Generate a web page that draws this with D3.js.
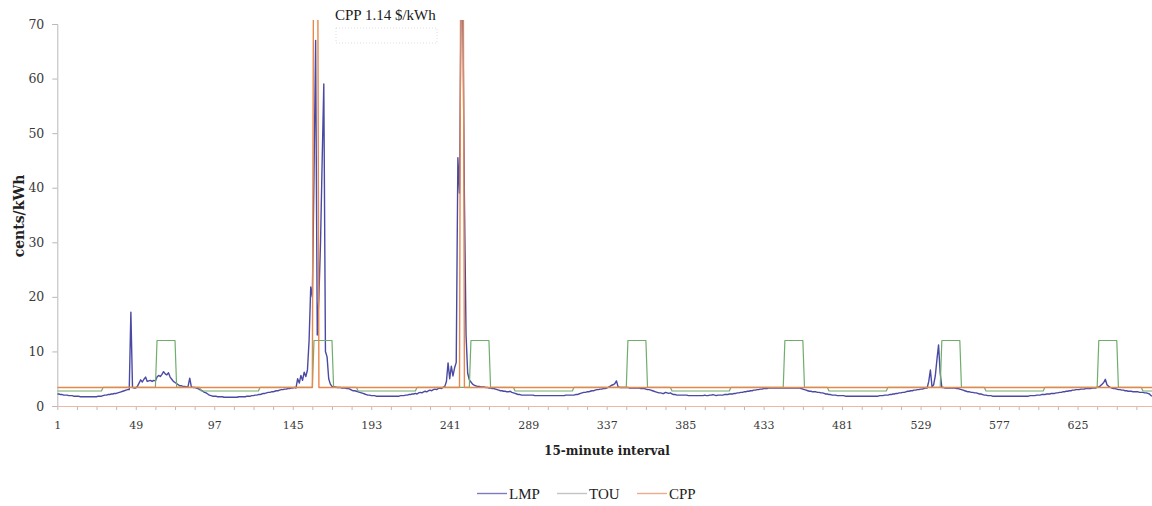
<!DOCTYPE html>
<html>
<head>
<meta charset="utf-8">
<script src="https://cdn.jsdelivr.net/npm/d3@7"></script>
<style>
  html, body { margin: 0; padding: 0; background: #fff; }
  svg { display: block; }
</style>
</head>
<body>
<svg id="chart" width="1152" height="506"></svg>
<script>
// Locational marginal price, cents/kWh, one value per 15-minute interval (96 per day)
const lmpDay1 = [
  2.2, 2.2, 2.1, 2.1, 2.0, 2.0, 2.0, 1.9, 1.9, 1.9, 1.8, 1.8,
  1.8, 1.8, 1.7, 1.7, 1.7, 1.7, 1.7, 1.7, 1.7, 1.7, 1.7, 1.7,
  1.7, 1.8, 1.8, 1.8, 1.9, 2.0, 2.0, 2.1, 2.1, 2.2, 2.2, 2.3,
  2.3, 2.4, 2.5, 2.6, 2.7, 2.8, 2.9, 3.0, 3.0, 17.2, 3.4, 3.3,
  3.3, 3.6, 4.2, 4.8, 4.4, 4.9, 5.3, 4.5, 4.6, 4.7, 4.5, 4.7,
  4.6, 5.3, 5.6, 5.4, 5.8, 6.3, 5.9, 5.7, 6.1, 5.3, 4.9, 4.5,
  4.3, 4.1, 3.9, 3.7, 3.7, 3.6, 3.6, 3.5, 3.6, 5.1, 3.5, 3.4,
  3.4, 3.3, 3.2, 3.0, 2.9, 2.7, 2.5, 2.4, 2.2, 2.0, 1.9, 1.8
];
const lmpDay2 = [
  1.8, 1.8, 1.7, 1.7, 1.7, 1.7, 1.6, 1.6, 1.6, 1.6, 1.6, 1.6,
  1.6, 1.6, 1.6, 1.7, 1.7, 1.7, 1.7, 1.7, 1.8, 1.8, 1.8, 1.9,
  1.9, 2.0, 2.0, 2.1, 2.1, 2.2, 2.3, 2.3, 2.4, 2.5, 2.5, 2.6,
  2.6, 2.7, 2.8, 2.8, 2.9, 3.0, 3.0, 3.1, 3.1, 3.2, 3.2, 3.3,
  3.3, 3.4, 3.3, 5.0, 4.2, 5.6, 4.7, 6.2, 5.4, 6.6, 12.0, 21.8,
  20.0, 42.0, 67.0, 13.0, 20.0, 30.0, 45.0, 59.0, 10.0, 9.0, 5.0, 4.0,
  3.6, 3.5, 3.5, 3.4, 3.4, 3.4, 3.3, 3.3, 3.3, 3.2, 3.2, 3.1,
  2.9, 2.8, 2.8, 2.7, 2.6, 2.5, 2.4, 2.3, 2.2, 2.1, 2.0, 2.0
];
const lmpDay3 = [
  1.9, 1.9, 1.9, 1.8, 1.8, 1.8, 1.8, 1.8, 1.8, 1.8, 1.8, 1.8,
  1.8, 1.8, 1.8, 1.8, 1.8, 1.8, 1.9, 1.9, 1.9, 2.0, 2.0, 2.1,
  2.1, 2.2, 2.2, 2.3, 2.2, 2.4, 2.5, 2.4, 2.6, 2.7, 2.6, 2.8,
  2.9, 2.8, 3.0, 3.1, 3.0, 3.2, 3.3, 3.2, 3.4, 3.6, 4.5, 7.9,
  5.0, 7.3, 5.5, 7.0, 8.0, 45.5, 39.0, 76.0, 74.0, 38.0, 13.0, 6.0,
  4.8, 4.4, 4.0, 3.8, 3.7, 3.6, 3.6, 3.5, 3.5, 3.5, 3.4, 3.4,
  3.3, 3.3, 3.2, 3.2, 3.1, 3.0, 2.9, 2.8, 2.8, 2.7, 2.7, 2.6,
  2.6, 2.7, 2.5, 2.4, 2.3, 2.2, 2.1, 2.1, 2.0, 2.0, 2.0, 2.0
];
const lmpDay4 = [
  2.0, 2.0, 2.0, 2.0, 1.9, 1.9, 1.9, 1.9, 1.9, 1.9, 1.9, 1.9,
  1.9, 1.9, 1.9, 1.9, 1.9, 1.9, 1.9, 1.9, 1.9, 1.9, 1.9, 2.0,
  2.0, 2.0, 2.0, 2.0, 2.0, 2.1, 2.1, 2.2, 2.3, 2.4, 2.5, 2.5,
  2.6, 2.6, 2.7, 2.8, 2.8, 2.9, 3.0, 3.0, 3.1, 3.1, 3.2, 3.2,
  3.3, 3.4, 3.6, 3.8, 3.9, 4.1, 4.6, 3.5, 3.4, 3.4, 3.4, 3.4,
  3.4, 3.4, 3.3, 3.3, 3.3, 3.3, 3.3, 3.3, 3.3, 3.2, 3.2, 3.2,
  3.1, 3.0, 3.0, 2.9, 2.8, 2.7, 2.6, 2.5, 2.4, 2.4, 2.3, 2.3,
  2.5, 2.4, 2.3, 2.4, 2.2, 2.1, 2.1, 2.0, 2.0, 2.0, 2.0, 2.0
];
const lmpDay5 = [
  2.0, 2.0, 1.9, 1.9, 1.9, 1.9, 1.9, 1.9, 1.9, 1.9, 1.9, 1.9,
  2.0, 1.9, 1.9, 2.0, 2.0, 2.1, 2.0, 1.9, 2.0, 2.0, 2.0, 2.0,
  2.1, 2.1, 2.1, 2.2, 2.2, 2.2, 2.3, 2.3, 2.4, 2.4, 2.5, 2.5,
  2.6, 2.6, 2.7, 2.7, 2.8, 2.8, 2.9, 2.9, 3.0, 3.0, 3.1, 3.1,
  3.2, 3.2, 3.2, 3.3, 3.3, 3.3, 3.3, 3.3, 3.3, 3.3, 3.3, 3.3,
  3.3, 3.3, 3.3, 3.3, 3.3, 3.3, 3.3, 3.3, 3.3, 3.3, 3.3, 3.2,
  3.1, 3.0, 2.9, 2.8, 2.7, 2.7, 2.6, 2.6, 2.6, 2.5, 2.5, 2.4,
  2.4, 2.3, 2.2, 2.2, 2.1, 2.1, 2.0, 2.0, 2.0, 1.9, 1.9, 1.9
];
const lmpDay6 = [
  1.9, 1.9, 1.8, 1.8, 1.8, 1.8, 1.8, 1.8, 1.8, 1.8, 1.8, 1.8,
  1.8, 1.8, 1.8, 1.8, 1.8, 1.8, 1.8, 1.8, 1.8, 1.8, 1.8, 1.9,
  1.9, 1.9, 2.0, 2.0, 2.0, 2.1, 2.1, 2.2, 2.2, 2.3, 2.3, 2.4,
  2.4, 2.5, 2.5, 2.6, 2.7, 2.7, 2.8, 2.8, 2.9, 2.9, 3.0, 3.0,
  3.1, 3.1, 3.2, 3.3, 3.3, 4.5, 6.6, 3.5, 3.9, 5.5, 8.5, 11.2,
  6.0, 3.4, 3.4, 3.3, 3.3, 3.3, 3.3, 3.3, 3.3, 3.3, 3.2, 3.2,
  3.1, 3.0, 2.9, 2.8, 2.7, 2.6, 2.6, 2.5, 2.5, 2.4, 2.4, 2.3,
  2.2, 2.2, 2.1, 2.0, 2.0, 1.9, 1.9, 1.9, 1.8, 1.8, 1.8, 1.8
];
const lmpDay7 = [
  1.8, 1.8, 1.8, 1.8, 1.8, 1.8, 1.8, 1.8, 1.8, 1.8, 1.8, 1.8,
  1.8, 1.8, 1.8, 1.8, 1.8, 1.8, 1.8, 1.9, 1.9, 1.9, 1.9, 2.0,
  2.0, 2.0, 2.1, 2.1, 2.1, 2.2, 2.2, 2.2, 2.3, 2.3, 2.3, 2.4,
  2.4, 2.5, 2.5, 2.6, 2.6, 2.7, 2.7, 2.8, 2.8, 2.9, 2.9, 3.0,
  3.0, 3.0, 3.1, 3.1, 3.1, 3.2, 3.2, 3.2, 3.2, 3.3, 3.3, 3.3,
  3.4, 3.5, 3.7, 4.0, 4.3, 4.9, 3.9, 3.6, 3.4, 3.3, 3.2, 3.2,
  3.1, 3.0, 3.0, 2.9, 2.9, 2.8, 2.8, 2.7, 2.7, 2.7, 2.6, 2.6,
  2.6, 2.6, 2.5, 2.5, 2.5, 2.4, 2.4, 2.3, 2.2, 1.9, 1.8, 1.8
];

// Time-of-use tariff as runs of constant price: first interval, last interval, cents/kWh
const touStart = [1, 29, 62, 74, 89, 125, 158, 170, 185, 221, 254, 266, 281, 317, 350, 362, 377, 413, 446, 458, 473, 509, 542, 554, 569, 605, 638, 650, 665];
const touEnd   = [28, 61, 73, 88, 124, 157, 169, 184, 220, 253, 265, 280, 316, 349, 361, 376, 412, 445, 457, 472, 508, 541, 553, 568, 604, 637, 649, 664, 672];
const touPrice = [2.75, 3.4, 12, 3.4, 2.75, 3.4, 12, 3.4, 2.75, 3.4, 12, 3.4, 2.75, 3.4, 12, 3.4, 2.75, 3.4, 12, 3.4, 2.75, 3.4, 12, 3.4, 2.75, 3.4, 12, 3.4, 2.75];

// Critical peak pricing as runs: flat rate with two 1.14 $/kWh events
const cppStart = [1, 158, 161, 248, 250];
const cppEnd   = [157, 160, 247, 249, 672];
const cppPrice = [3.4, 114, 3.4, 114, 3.4];

// Axis labelling
const xTickLabels = [1, 49, 97, 145, 193, 241, 289, 337, 385, 433, 481, 529, 577, 625];
const yTickValues = [0, 10, 20, 30, 40, 50, 60, 70];
const seriesNames = ["LMP", "TOU", "CPP"];
const seriesColors = ["#4a4aa4", "#70ad6c", "#e8874c"];
const legendColors = ["#7b7bbd", "#c4c4c4", "#f0a98c"];

const lmp = [].concat(lmpDay1, lmpDay2, lmpDay3, lmpDay4, lmpDay5, lmpDay6, lmpDay7);
const lmpPoints = lmp.map((v, k) => ({ i: k + 1, v }));

function runsToPoints(starts, ends, values) {
  const pts = [];
  starts.forEach((s, k) => {
    pts.push({ i: s, v: values[k] });
    if (ends[k] !== s) pts.push({ i: ends[k], v: values[k] });
  });
  return pts;
}
const touPoints = runsToPoints(touStart, touEnd, touPrice);
const cppPoints = runsToPoints(cppStart, cppEnd, cppPrice);

const svg = d3.select("#chart");
const plotLeft = 57.3, plotBottom = 406, plotTop = 24;
const step = 1.635;

const x = d3.scaleLinear().domain([1, 672]).range([plotLeft, plotLeft + 671 * step]);
const y = d3.scaleLinear().domain([0, 70]).range([plotBottom, plotTop]);

const serif = "'DejaVu Serif', 'Liberation Serif', serif";
const times = "'Liberation Serif', 'Times New Roman', serif";

// Clip for the plot area
svg.append("defs").append("clipPath").attr("id", "plot-clip")
  .append("rect").attr("x", plotLeft).attr("y", 20).attr("width", 1152 - plotLeft).attr("height", plotBottom - 20 + 1);

// Y axis
const yAxis = svg.append("g").attr("transform", `translate(${plotLeft},0)`)
  .call(d3.axisLeft(y).tickValues(yTickValues).tickSize(5).tickPadding(8).tickFormat(d3.format("d")));
yAxis.select(".domain").attr("stroke", "#b9b9b9").attr("stroke-width", 1);
yAxis.selectAll(".tick line").attr("stroke", "#b9b9b9");
yAxis.selectAll(".tick text").attr("fill", "#3a3a3a").style("font-family", serif).style("font-size", "12.5px");

// X axis: tick marks every 12 intervals, labels every 48
const xTickMarks = d3.range(1, 673, 12);
const xAxis = svg.append("g").attr("transform", `translate(0,${plotBottom})`)
  .call(d3.axisBottom(x).tickValues(xTickMarks).tickSize(4).tickPadding(11)
    .tickFormat(d => xTickLabels.includes(d) ? String(d) : ""));
xAxis.select(".domain").remove();
xAxis.selectAll(".tick line").attr("stroke", "#b9b9b9");
xAxis.selectAll(".tick text").attr("fill", "#3a3a3a").style("font-family", serif).style("font-size", "11px");
svg.append("line").attr("x1", plotLeft).attr("x2", 1152).attr("y1", plotBottom + 0.5).attr("y2", plotBottom + 0.5)
  .attr("stroke", "#f1b6a6").attr("stroke-width", 1.2);

// Axis titles
svg.append("text").attr("x", 607).attr("y", 455).attr("text-anchor", "middle")
  .style("font-family", serif).style("font-weight", "bold").style("font-size", "12px").attr("fill", "#222")
  .text("15-minute interval");
svg.append("text").attr("transform", "translate(24,216) rotate(-90)").attr("text-anchor", "middle")
  .style("font-family", serif).style("font-weight", "bold").style("font-size", "14px").attr("fill", "#222")
  .text("cents/kWh");

// Series
const line = d3.line().x(d => x(d.i)).y(d => y(d.v));
const plot = svg.append("g").attr("clip-path", "url(#plot-clip)");
[lmpPoints, touPoints, cppPoints].forEach((pts, k) => {
  plot.append("path").datum(pts)
    .attr("fill", "none")
    .attr("stroke", seriesColors[k])
    .attr("stroke-width", k === 1 ? 1.2 : 1.4)
    .attr("stroke-linejoin", "round")
    .attr("d", line);
});

// Event annotation
svg.append("rect").attr("x", 336).attr("y", 28).attr("width", 101).attr("height", 15)
  .attr("fill", "none").attr("stroke", "#d6d6d6").attr("stroke-dasharray", "1,2").attr("stroke-width", 0.8);
svg.append("text").attr("x", 335).attr("y", 19.5)
  .style("font-family", times).style("font-size", "15px").attr("fill", "#1a1a1a")
  .text("CPP 1.14 $/kWh");

// Legend
const legendX = [477, 557, 637];
const legend = svg.append("g");
seriesNames.forEach((name, k) => {
  legend.append("line").attr("x1", legendX[k]).attr("x2", legendX[k] + 30)
    .attr("y1", 493.5).attr("y2", 493.5).attr("stroke", legendColors[k]).attr("stroke-width", 1.4);
  legend.append("text").attr("x", legendX[k] + 32).attr("y", 498.5)
    .style("font-family", times).style("font-size", "15px").attr("fill", "#222").text(name);
});
</script>
</body>
</html>
